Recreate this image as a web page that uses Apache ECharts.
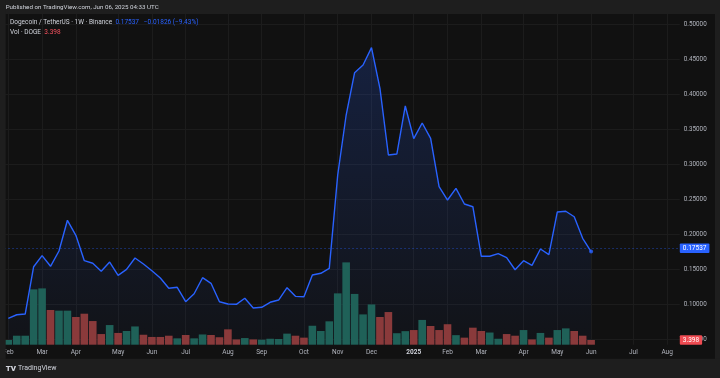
<!DOCTYPE html>
<html>
<head>
<meta charset="utf-8">
<script src="https://cdn.jsdelivr.net/npm/echarts@6/dist/echarts.min.js"></script>
<style>
  html, body { margin: 0; padding: 0; background: #1e1e1e; }
  #chart { width: 720px; height: 378px; }
</style>
</head>
<body>
<div id="chart"></div>
<script>
// weekly bars, DOGE/USDT on Binance, first bar = week of 2024-02-05
const firstWeek = '2024-02-05'
const weekCount = 80 // includes the empty weeks up to Aug 2025

// close prices (USDT), one per week
const price = [
  0.0800, 0.0851, 0.0861, 0.1537, 0.1695, 0.1543, 0.1761, 0.2200, 0.1986, 0.1623,
  0.1586, 0.1471, 0.1604, 0.1414, 0.1500, 0.1661, 0.1576, 0.1480, 0.1376, 0.1229,
  0.1243, 0.1037, 0.1151, 0.1380, 0.1300, 0.1037, 0.1004, 0.1000, 0.1086, 0.0947,
  0.0957, 0.1029, 0.1061, 0.1237, 0.1114, 0.1109, 0.1419, 0.1443, 0.1514, 0.2847,
  0.3704, 0.4309, 0.4419, 0.4666, 0.4086, 0.3133, 0.3147, 0.3833, 0.3366, 0.3590,
  0.3371, 0.2680, 0.2490, 0.2657, 0.2433, 0.2394, 0.1686, 0.1686, 0.1723, 0.1666,
  0.1494, 0.1623, 0.1557, 0.1790, 0.1709, 0.2319, 0.2329, 0.2251, 0.1943, 0.17537
]

// volume in billions of DOGE
const volume = [
  3.4, 6.5, 6.5, 40.0, 40.7, 25.1, 24.6, 24.6, 20.0, 22.4,
  17.1, 7.7, 14.2, 8.5, 9.9, 13.2, 7.2, 5.6, 5.6, 6.5,
  4.6, 7.0, 4.6, 7.4, 7.0, 5.4, 11.1, 3.8, 4.8, 3.8,
  3.6, 4.3, 4.1, 8.0, 6.5, 5.1, 13.7, 9.9, 16.9, 37.1,
  59.5, 36.7, 21.9, 29.1, 20.0, 23.6, 8.3, 9.8, 10.6, 17.9,
  13.5, 10.6, 14.8, 6.9, 5.1, 12.3, 9.9, 8.8, 4.3, 7.7,
  6.5, 10.6, 3.8, 8.5, 5.1, 10.6, 11.8, 9.9, 6.5, 3.398
]

// 1 = up week (green), 0 = down week (red)
const volUp = [
  1, 1, 1, 1, 1, 0, 1, 1, 0, 0,
  0, 0, 1, 0, 1, 1, 0, 0, 0, 0,
  1, 0, 1, 1, 0, 0, 0, 0, 1, 0,
  1, 1, 1, 1, 0, 0, 1, 1, 1, 1,
  1, 1, 1, 1, 0, 0, 1, 1, 0, 1,
  0, 0, 0, 1, 0, 0, 0, 1, 1, 0,
  0, 1, 0, 1, 0, 1, 1, 0, 0, 0
]

const priceTicks = [0.05, 0.10, 0.15, 0.20, 0.25, 0.30, 0.35, 0.40, 0.45, 0.50]

const monthLabels = [
  ['2024-02-05', 'Feb'], ['2024-03-04', 'Mar'], ['2024-04-01', 'Apr'], ['2024-05-06', 'May'],
  ['2024-06-03', 'Jun'], ['2024-07-01', 'Jul'], ['2024-08-05', 'Aug'], ['2024-09-02', 'Sep'],
  ['2024-10-07', 'Oct'], ['2024-11-04', 'Nov'], ['2024-12-02', 'Dec'], ['2025-01-06', '2025'],
  ['2025-02-03', 'Feb'], ['2025-03-03', 'Mar'], ['2025-04-07', 'Apr'], ['2025-05-05', 'May'],
  ['2025-06-02', 'Jun'], ['2025-07-07', 'Jul'], ['2025-08-04', 'Aug']
]

const lastPrice = '0.17537'
const lastVol = '3.398'

// build the week categories
const weeks = []
{
  const d = new Date(firstWeek + 'T00:00:00Z')
  for (let i = 0; i < weekCount; i++) {
    weeks.push(d.toISOString().slice(0, 10))
    d.setUTCDate(d.getUTCDate() + 7)
  }
}
const labelOf = {}
monthLabels.forEach(([d, l]) => { labelOf[d] = l })
const monthIdx = weeks.map((w, i) => (labelOf[w] ? i : -1)).filter(i => i >= 0)

const green = '#1f6158'
const red = '#8a3a3b'
const blue = '#2962ff'
const txt = '#d1d4dc'
const axisTxt = '#b2b5be'
const font = 'Roboto, "Liberation Sans", sans-serif'

const chart = echarts.init(document.getElementById('chart'))

const option = {
  backgroundColor: '#111111',
  animation: false,
  grid: { left: 2.17, right: 40.2, top: 14, bottom: 33.3, containLabel: false },
  xAxis: [
    {
      type: 'category',
      data: weeks,
      boundaryGap: true,
      axisLine: { show: false },
      axisTick: { show: false },
      splitLine: { show: false },
      axisLabel: {
        interval: (i, v) => !!labelOf[v],
        formatter: v => (labelOf[v] === '2025' ? '{y|2025}' : labelOf[v]),
        color: axisTxt,
        fontFamily: font,
        fontSize: 6.5,
        margin: 4.5,
        hideOverlap: false,
        rich: { y: { color: txt, fontWeight: 'bold', fontFamily: font, fontSize: 6.5 } }
      }
    },
    {
      // only used for the month grid lines, centred on the bars
      type: 'value',
      position: 'top',
      min: -0.5,
      max: weekCount - 0.5,
      axisLine: { show: false },
      axisLabel: { show: false },
      axisTick: { show: false, customValues: monthIdx },
      splitLine: { show: true, lineStyle: { color: '#1c1c1c', width: 1 } }
    }
  ],
  yAxis: [
    {
      type: 'value',
      position: 'right',
      min: 0.0423,
      max: 0.5147,
      axisLine: { show: false },
      axisTick: { show: false, customValues: priceTicks },
      splitLine: { show: true, lineStyle: { color: '#1c1c1c', width: 1 } },
      axisLabel: {
        customValues: priceTicks,
        formatter: v => v.toFixed(5),
        color: axisTxt,
        fontFamily: font,
        fontSize: 6.3,
        margin: 4
      }
    },
    {
      type: 'value',
      min: 0,
      max: 239,
      show: false,
      splitLine: { show: false }
    }
  ],
  series: [
    {
      name: 'area',
      type: 'line',
      data: price,
      z: 1,
      symbol: 'none',
      lineStyle: { width: 0 },
      areaStyle: {
        color: new echarts.graphic.LinearGradient(0, 0, 0, 1, [
          { offset: 0, color: 'rgba(41,98,255,0.28)' },
          { offset: 1, color: 'rgba(41,98,255,0.04)' }
        ])
      },
      silent: true
    },
    {
      name: 'Vol',
      type: 'bar',
      yAxisIndex: 1,
      z: 2,
      barCategoryGap: '10%',
      data: volume.map((v, i) => ({ value: v, itemStyle: { color: volUp[i] ? green : red } }))
    },
    {
      // carries the red last-volume tag on the right scale
      name: 'VolTag',
      type: 'line',
      yAxisIndex: 1,
      data: [],
      z: 5,
      markLine: {
        silent: true,
        symbol: ['none', 'none'],
        lineStyle: { color: 'rgba(0,0,0,0)', width: 0 },
        label: {
          show: true,
          position: 'end',
          distance: 0,
          formatter: lastVol,
          color: '#ffffff',
          backgroundColor: '#ef4b52',
          fontFamily: font,
          fontSize: 6.5,
          padding: [1.5, 3, 1, 3],
          borderRadius: 1
        },
        data: [{ yAxis: volume[volume.length - 1] }]
      }
    },
    {
      name: 'DOGEUSDT',
      type: 'line',
      data: price,
      z: 3,
      symbol: 'none',
      lineStyle: { color: blue, width: 1.4 },
      markLine: {
        silent: true,
        symbol: ['none', 'none'],
        lineStyle: { color: 'rgba(41,98,255,0.35)', type: [2, 2], width: 1 },
        label: {
          position: 'end',
          distance: 0,
          formatter: lastPrice,
          color: '#ffffff',
          backgroundColor: blue,
          fontFamily: font,
          fontSize: 6.5,
          padding: [1.5, 3, 1, 3],
          borderRadius: 1
        },
        data: [{ yAxis: price[price.length - 1] }]
      }
    },
    {
      name: 'last',
      type: 'scatter',
      z: 4,
      symbolSize: 4,
      itemStyle: { color: blue },
      data: [[weeks[price.length - 1], price[price.length - 1]]]
    }
  ],
  graphic: [
    // outer frame
    { type: 'rect', z: 100, shape: { x: 0, y: 0, width: 720, height: 14 }, style: { fill: '#1e1e1e' } },
    { type: 'rect', z: 100, shape: { x: 0, y: 0, width: 5.7, height: 378 }, style: { fill: '#1e1e1e' } },
    { type: 'rect', z: 100, shape: { x: 715, y: 0, width: 5, height: 378 }, style: { fill: '#1e1e1e' } },
    { type: 'rect', z: 100, shape: { x: 0, y: 358.7, width: 720, height: 20 }, style: { fill: '#1e1e1e' } },
    {
      type: 'text', z: 101, x: 5.7, y: 7.3,
      style: { text: 'Published on TradingView.com, Jun 06, 2025 04:33 UTC', fill: txt, font: '6.2px ' + font, verticalAlign: 'middle' }
    },
    {
      type: 'text', z: 101, x: 10, y: 22.7,
      style: {
        text: '{a|Dogecoin / TetherUS · 1W · Binance}{b|  0.17537   −0.01826 (−9.43%)}',
        verticalAlign: 'middle',
        rich: {
          a: { fill: txt, font: '6.5px ' + font },
          b: { fill: blue, font: '6.5px ' + font }
        }
      }
    },
    {
      type: 'text', z: 101, x: 10, y: 32,
      style: {
        text: '{a|Vol · DOGE}{b|  3.398}',
        verticalAlign: 'middle',
        rich: {
          a: { fill: txt, font: '6.5px ' + font },
          b: { fill: '#f7525f', font: '6.5px ' + font }
        }
      }
    },
    {
      type: 'text', z: 101, x: 5.7, y: 368.5,
      style: { text: 'TV', fill: txt, font: '900 8px ' + font, verticalAlign: 'middle' }
    },
    {
      type: 'text', z: 101, x: 18, y: 368.5,
      style: { text: 'TradingView', fill: txt, font: '7px ' + font, verticalAlign: 'middle' }
    }
  ]
}

chart.setOption(option)
</script>
</body>
</html>
